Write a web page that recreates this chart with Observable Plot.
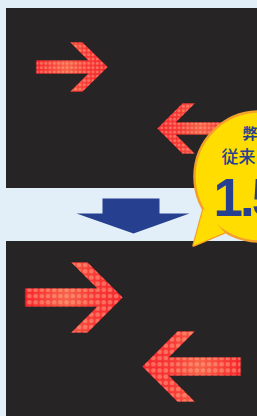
<!DOCTYPE html>
<html><head><meta charset="utf-8">
<script src="https://cdn.jsdelivr.net/npm/d3@7"></script>
<script src="https://cdn.jsdelivr.net/npm/@observablehq/plot@0.6"></script>
<style>html,body{margin:0;padding:0;background:#e2eff8;overflow:hidden}</style>
</head><body>
<div id="chart"></div>
<script>
// panels (dark LED boards)
const panels = [
  {x1: 6, x2: 257, y1: 8, y2: 188},
  {x1: 6, x2: 257, y1: 241, y2: 416}
];
// arrow outlines: [x, y] vertices
const arrowTopRight = [[36,60],[88,60],[70,42],[82,42],[107,66.5],[82,91],[70,91],[88,73],[36,73]];
const arrowTopLeft = [[232,122],[175,122],[194,103],[182,103],[157,128],[182,153],[194,153],[175,134],[232,134]];
const arrowBottomRight = [[25,288],[97,288],[71,262],[87,262],[122,297],[87,332],[71,332],[97,306],[25,306]];
const arrowBottomLeft = [[240,357],[168,357],[194,331],[177,331],[142,366],[177,401],[194,401],[168,375],[240,375]];
const downArrow = [[102,198],[159,198],[159,213],[189,213],[133,233],[76,213],[102,213]];
const bubbleTail = [[203,208],[193,245],[224,232]];
const bubbleCircle = [{x: 259, y: 176}];
const labels = [
  {x: 242, y: 134, text: "弊"},
  {x: 221, y: 157, text: "従来"}
];
const bigLabel = [{x: 213, y: 199, text: "1.5"}];

const toPts = (arr, id) => arr.map(([x, y]) => ({x, y, id}));
const smallArrows = [...toPts(arrowTopRight, "tr"), ...toPts(arrowTopLeft, "tl")];
const bigArrows = [...toPts(arrowBottomRight, "br"), ...toPts(arrowBottomLeft, "bl")];

const blue = "#263f8f";
const yellow = "#ffdd00";
const orange = "#f2a12a";

const chart = Plot.plot({
  width: 257,
  height: 416,
  margin: 0,
  x: {domain: [0, 257], range: [0, 257], axis: null},
  y: {domain: [0, 416], range: [0, 416], axis: null},
  style: {background: "#e2eff8"},
  marks: [
    Plot.rect(panels, {x1: "x1", x2: "x2", y1: "y1", y2: "y2", fill: "#262425"}),
    Plot.line(toPts(arrowTopRight, "tr"), {x: "x", y: "y", z: "id", curve: "linear-closed", fill: "url(#gradR)", stroke: "#c8202a", strokeOpacity: 0.5, strokeWidth: 0.8}),
    Plot.line(toPts(arrowTopLeft, "tl"), {x: "x", y: "y", z: "id", curve: "linear-closed", fill: "url(#gradL)", stroke: "#c8202a", strokeOpacity: 0.5, strokeWidth: 0.8}),
    Plot.line(toPts(arrowBottomRight, "br"), {x: "x", y: "y", z: "id", curve: "linear-closed", fill: "url(#gradR)", stroke: "#c8202a", strokeOpacity: 0.5, strokeWidth: 0.8}),
    Plot.line(toPts(arrowBottomLeft, "bl"), {x: "x", y: "y", z: "id", curve: "linear-closed", fill: "url(#gradL)", stroke: "#c8202a", strokeOpacity: 0.5, strokeWidth: 0.8}),
    Plot.line(smallArrows, {x: "x", y: "y", z: "id", curve: "linear-closed", fill: "url(#dotsS)", stroke: "none"}),
    Plot.line(bigArrows, {x: "x", y: "y", z: "id", curve: "linear-closed", fill: "url(#dotsB)", stroke: "none"}),
    Plot.line(toPts(downArrow, "d"), {x: "x", y: "y", curve: "linear-closed", fill: blue, stroke: "none"}),
    Plot.line(toPts(bubbleTail, "t"), {x: "x", y: "y", curve: "linear-closed", fill: yellow, stroke: orange, strokeWidth: 2.5, strokeLinejoin: "round"}),
    Plot.dot(bubbleCircle, {x: "x", y: "y", r: 65, fill: yellow, stroke: orange, strokeWidth: 2.5}),
    Plot.line(toPts(bubbleTail, "t"), {x: "x", y: "y", curve: "linear-closed", fill: yellow, stroke: "none"}),
    Plot.text(labels.slice(0, 1), {x: "x", y: "y", text: "text", textAnchor: "start", fill: blue, fontSize: 15, fontWeight: "bold", fontFamily: "Noto Sans CJK JP"}),
    Plot.text(labels.slice(1), {x: "x", y: "y", text: "text", textAnchor: "start", fill: blue, fontSize: 17, fontWeight: 500, fontFamily: "Noto Sans CJK JP"}),
    Plot.text(bigLabel, {x: "x", y: "y", text: "text", textAnchor: "start", fill: blue, fontSize: 53, fontWeight: "bold", fontFamily: "Liberation Sans Narrow, Liberation Sans, sans-serif"})
  ]
});

d3.select(chart).insert("defs", ":first-child").html(`
  <linearGradient id="gradR" x1="0" y1="0" x2="1" y2="0">
    <stop offset="0" stop-color="#ff2a30"/>
    <stop offset="0.42" stop-color="#ff8a5e"/>
    <stop offset="0.7" stop-color="#ff4a40"/>
    <stop offset="1" stop-color="#ff3036"/>
  </linearGradient>
  <linearGradient id="gradL" x1="1" y1="0" x2="0" y2="0">
    <stop offset="0" stop-color="#ff2a30"/>
    <stop offset="0.42" stop-color="#ff8a5e"/>
    <stop offset="0.7" stop-color="#ff4a40"/>
    <stop offset="1" stop-color="#ff3036"/>
  </linearGradient>
  <pattern id="dotsS" patternUnits="userSpaceOnUse" width="4.3" height="4.3" x="0" y="0.5">
    <rect width="4.3" height="4.3" fill="#e81822" fill-opacity="0.35"/>
    <circle cx="2.15" cy="2.15" r="1.55" fill="#ffb890" fill-opacity="0.45"/>
  </pattern>
  <pattern id="dotsB" patternUnits="userSpaceOnUse" width="6.2" height="6.2" x="1" y="1">
    <rect width="6.2" height="6.2" fill="#e81822" fill-opacity="0.35"/>
    <circle cx="3.1" cy="3.1" r="2.3" fill="#ffb890" fill-opacity="0.45"/>
  </pattern>`);

d3.select(chart).selectAll("text").filter(function () { return this.textContent === "1.5"; })
  .attr("letter-spacing", "-3");

document.getElementById("chart").appendChild(chart);
</script>
</body></html>
